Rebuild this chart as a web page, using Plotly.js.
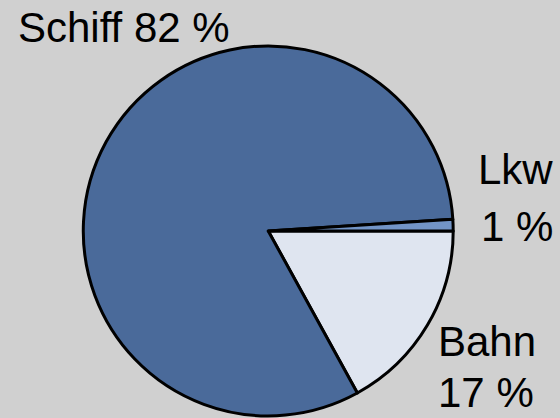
<!DOCTYPE html>
<html>
<head>
<meta charset="utf-8">
<script src="https://cdn.plot.ly/plotly-3.0.1.min.js"></script>
<style>html,body{margin:0;padding:0;background:#d0d0d0;}#chart{width:560px;height:418px;}</style>
</head>
<body>
<div id="chart"></div>
<script>
const categories = ["Bahn", "Schiff", "Lkw"];
const shares = [17, 82, 1];
const sliceColors = ["#dfe5f0", "#4a6a9a", "#7294c6"];
const twoLineLabel = [true, false, true];

// label anchor positions (paper coords): [name line, percent line]
const labelPlaces = [
  [{x: 0.870, y: 0.184}, {x: 0.868, y: 0.062}],
  [{x: 0.221, y: 0.935}, null],
  [{x: 0.921, y: 0.594}, {x: 0.923, y: 0.459}]
];

const fontSpec = {family: "Liberation Sans, Arial, sans-serif", size: 42, color: "#000"};
const annotations = [];
categories.forEach((c, i) => {
  const pct = shares[i] + " %";
  if (twoLineLabel[i]) {
    annotations.push({text: c, xref: "paper", yref: "paper", x: labelPlaces[i][0].x, y: labelPlaces[i][0].y,
      xanchor: "center", yanchor: "middle", showarrow: false, font: fontSpec});
    annotations.push({text: pct, xref: "paper", yref: "paper", x: labelPlaces[i][1].x, y: labelPlaces[i][1].y,
      xanchor: "center", yanchor: "middle", showarrow: false, font: fontSpec});
  } else {
    annotations.push({text: c + " " + pct, xref: "paper", yref: "paper", x: labelPlaces[i][0].x, y: labelPlaces[i][0].y,
      xanchor: "center", yanchor: "middle", showarrow: false, font: fontSpec});
  }
});

const trace = {
  type: "pie",
  labels: categories,
  values: shares,
  sort: false,
  direction: "clockwise",
  rotation: 90,
  textinfo: "none",
  hoverinfo: "label+percent",
  marker: {colors: sliceColors, line: {color: "#000", width: 3}},
  domain: {x: [0.148, 0.810], y: [0.005, 0.890]},
  showlegend: false
};

const layout = {
  width: 560, height: 418,
  margin: {l: 0, r: 0, t: 0, b: 0},
  paper_bgcolor: "#d0d0d0",
  plot_bgcolor: "#d0d0d0",
  annotations: annotations,
  showlegend: false
};

Plotly.newPlot("chart", [trace], layout, {staticPlot: true, displayModeBar: false});
</script>
</body>
</html>
